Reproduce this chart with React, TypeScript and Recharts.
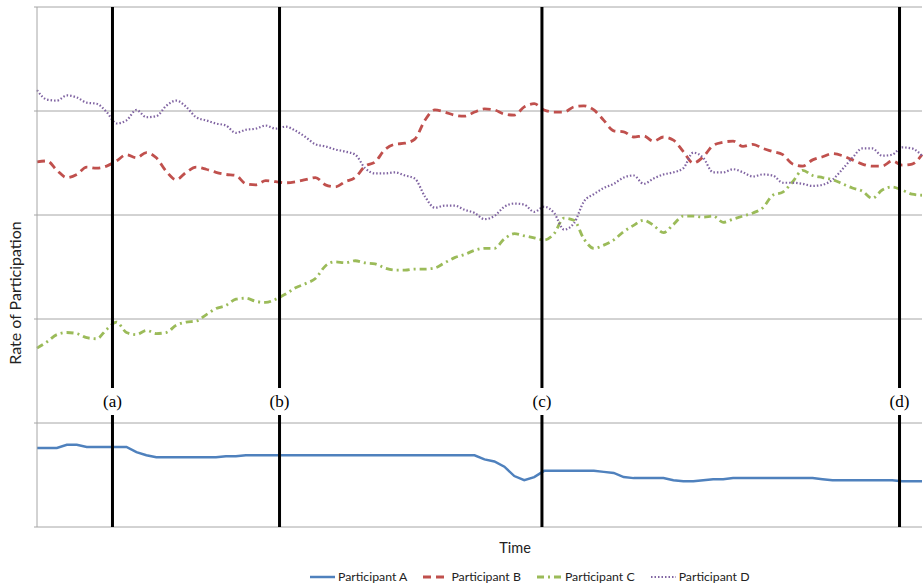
import {
  CartesianGrid,
  Line,
  LineChart,
  ReferenceLine,
  XAxis,
  YAxis,
} from "recharts";

// time index 0..89 spans the whole session
const timeSteps: number[] = Array.from({ length: 90 }, (_, i) => i);

const participantA = [
  0.76, 0.76, 0.76, 0.79, 0.79, 0.77, 0.77, 0.77, 0.77, 0.77,
  0.72, 0.69, 0.67, 0.67, 0.67, 0.67, 0.67, 0.67, 0.67, 0.68,
  0.68, 0.69, 0.69, 0.69, 0.69, 0.69, 0.69, 0.69, 0.69, 0.69,
  0.69, 0.69, 0.69, 0.69, 0.69, 0.69, 0.69, 0.69, 0.69, 0.69,
  0.69, 0.69, 0.69, 0.69, 0.69, 0.65, 0.63, 0.58, 0.49, 0.45,
  0.48, 0.54, 0.54, 0.54, 0.54, 0.54, 0.54, 0.53, 0.52, 0.48,
  0.47, 0.47, 0.47, 0.47, 0.45, 0.44, 0.44, 0.45, 0.46, 0.46,
  0.47, 0.47, 0.47, 0.47, 0.47, 0.47, 0.47, 0.47, 0.47, 0.46,
  0.45, 0.45, 0.45, 0.45, 0.45, 0.45, 0.45, 0.44, 0.44, 0.44,
];

const participantB = [
  3.51, 3.52, 3.43, 3.36, 3.39, 3.46, 3.45, 3.47, 3.52, 3.58,
  3.55, 3.6, 3.55, 3.42, 3.34, 3.41, 3.46, 3.44, 3.41, 3.39,
  3.38, 3.3, 3.29, 3.33, 3.32, 3.31, 3.32, 3.34, 3.36, 3.29,
  3.27, 3.32, 3.36, 3.47, 3.51, 3.63, 3.68, 3.69, 3.73, 3.91,
  4.01, 3.99, 3.96, 3.95, 3.99, 4.02, 4.01, 3.97, 3.96, 4.04,
  4.07, 4.01, 3.99, 3.99, 4.04, 4.05, 4.01, 3.91, 3.81, 3.8,
  3.75, 3.76, 3.71, 3.75, 3.72, 3.61, 3.5, 3.56, 3.67, 3.7,
  3.71, 3.66, 3.68, 3.64, 3.61, 3.58, 3.49, 3.47, 3.53, 3.56,
  3.59, 3.57, 3.53, 3.49, 3.47, 3.47, 3.52, 3.48, 3.49, 3.58,
];

const participantC = [
  1.72, 1.78, 1.85, 1.87, 1.86, 1.82, 1.81, 1.9, 1.97, 1.87,
  1.85, 1.89, 1.86, 1.87, 1.94, 1.97, 1.98, 2.04, 2.1, 2.13,
  2.19, 2.2, 2.17, 2.16, 2.19, 2.24, 2.3, 2.34, 2.39, 2.51,
  2.55, 2.54, 2.56, 2.54, 2.53, 2.49, 2.47, 2.47, 2.48, 2.48,
  2.49, 2.54, 2.59, 2.62, 2.66, 2.68, 2.68, 2.77, 2.82, 2.8,
  2.78, 2.76, 2.82, 2.97, 2.95, 2.77, 2.68, 2.71, 2.76, 2.84,
  2.9, 2.95, 2.9, 2.83, 2.91, 2.99, 2.99, 2.98, 2.99, 2.93,
  2.96, 2.99, 3.02, 3.07, 3.19, 3.22, 3.32, 3.43, 3.38, 3.36,
  3.34, 3.3, 3.26, 3.23, 3.16, 3.24, 3.27, 3.24, 3.2, 3.19,
];

const participantD = [
  4.2, 4.11, 4.1, 4.15, 4.13, 4.08, 4.07, 3.99, 3.88, 3.91,
  4.01, 3.94, 3.95, 4.05, 4.1, 4.04, 3.94, 3.91, 3.88, 3.86,
  3.79, 3.82, 3.83, 3.86, 3.83, 3.85, 3.81, 3.75, 3.68, 3.66,
  3.63, 3.61, 3.58, 3.45, 3.4, 3.4, 3.41, 3.38, 3.35, 3.18,
  3.07, 3.09, 3.09, 3.05, 3.02, 2.96, 2.99, 3.08, 3.11, 3.1,
  3.03, 3.08, 3.02, 2.86, 2.92, 3.13, 3.2, 3.26, 3.3, 3.36,
  3.38, 3.3, 3.35, 3.39, 3.41, 3.45, 3.6, 3.55, 3.41, 3.41,
  3.44, 3.41, 3.37, 3.39, 3.38, 3.31, 3.31, 3.3, 3.28, 3.29,
  3.34, 3.44, 3.55, 3.64, 3.64, 3.57, 3.58, 3.65, 3.64, 3.57,
];

const yTicks = [0, 1, 2, 3, 4, 5];

// key moments marked on the timeline
const eventTimes = [7.59, 24.39, 50.78, 86.74];
const eventLabels = ["(a)", "(b)", "(c)", "(d)"];

const seriesNames = ["Participant A", "Participant B", "Participant C", "Participant D"];
const seriesKeys = ["a", "b", "c", "d"];
const seriesColors = ["#4f81bd", "#c0504d", "#9bbb59", "#8064a2"];
const seriesDash = [undefined, "8 5", "7 4 2 4", "1.5 2"];
const seriesWidth = [2.5, 2.8, 2.8, 2.2];

const data = timeSteps.map((t, i) => ({
  t,
  a: participantA[i],
  b: participantB[i],
  c: participantC[i],
  d: participantD[i],
}));

const sans = "Lato, 'Open Sans', sans-serif";

function EventLabel(props: any) {
  const x = props.viewBox?.x ?? 0;
  return (
    <g>
      <rect x={x - 14} y={388} width={28} height={27} fill="#ffffff" />
      <text
        x={x}
        y={407}
        textAnchor="middle"
        fontFamily="'Liberation Serif', 'Times New Roman', serif"
        fontSize={17}
        fill="#000"
      >
        {props.value}
      </text>
    </g>
  );
}

function LegendSample({ color, dash, width }: { color: string; dash?: string; width: number }) {
  return (
    <svg width={25} height={10} style={{ display: "block" }}>
      <line x1={0} y1={5} x2={25} y2={5} stroke={color} strokeWidth={width} strokeDasharray={dash} />
    </svg>
  );
}

export default function App() {
  return (
    <div style={{ position: "absolute", left: 0, top: 0, width: 924, height: 585, background: "#fff" }}>
      <LineChart
        width={924}
        height={585}
        data={data}
        margin={{ top: 7, right: 2, left: 0, bottom: 28 }}
      >
        <CartesianGrid horizontal vertical={false} stroke="#a6a6a6" />
        <XAxis
          dataKey="t"
          type="number"
          domain={[0, 89]}
          height={30}
          axisLine={false}
          tick={false}
          tickLine={false}
          label={{
            content: () => (
              <text x={515} y={553} textAnchor="middle" fontFamily={sans} fontSize={14.5} fill="#222">
                Time
              </text>
            ),
          }}
        />
        <YAxis
          type="number"
          domain={[0, 5]}
          ticks={yTicks}
          width={37}
          axisLine={{ stroke: "#a6a6a6" }}
          tickLine={{ stroke: "#a6a6a6" }}
          tickSize={3}
          tickFormatter={() => ""}
          label={{
            content: () => (
              <text
                x={21}
                y={293}
                textAnchor="middle"
                transform="rotate(-90 21 293)"
                fontFamily={sans}
                fontSize={16}
                fill="#222"
              >
                Rate of Participation
              </text>
            ),
          }}
        />
        {seriesKeys.map((k, i) => (
          <Line
            key={k}
            dataKey={k}
            name={seriesNames[i]}
            type={i === 0 ? "linear" : "monotone"}
            stroke={seriesColors[i]}
            strokeWidth={seriesWidth[i]}
            strokeDasharray={seriesDash[i]}
            dot={false}
            activeDot={false}
            isAnimationActive={false}
          />
        ))}
        {eventTimes.map((t, i) => (
          <ReferenceLine
            key={eventLabels[i]}
            x={t}
            stroke="#000"
            strokeWidth={3}
            zIndex={900}
            label={<EventLabel value={eventLabels[i]} />}
          />
        ))}
      </LineChart>
      <div
        style={{
          position: "absolute",
          left: 310,
          top: 569,
          display: "flex",
          alignItems: "center",
          gap: 16,
          fontFamily: sans,
          fontSize: 12.3,
          color: "#222",
          whiteSpace: "nowrap",
        }}
      >
        {seriesNames.map((n, i) => (
          <div key={n} style={{ display: "flex", alignItems: "center", gap: 3 }}>
            <LegendSample color={seriesColors[i]} dash={seriesDash[i]} width={seriesWidth[i]} />
            <span>{n}</span>
          </div>
        ))}
      </div>
    </div>
  );
}
